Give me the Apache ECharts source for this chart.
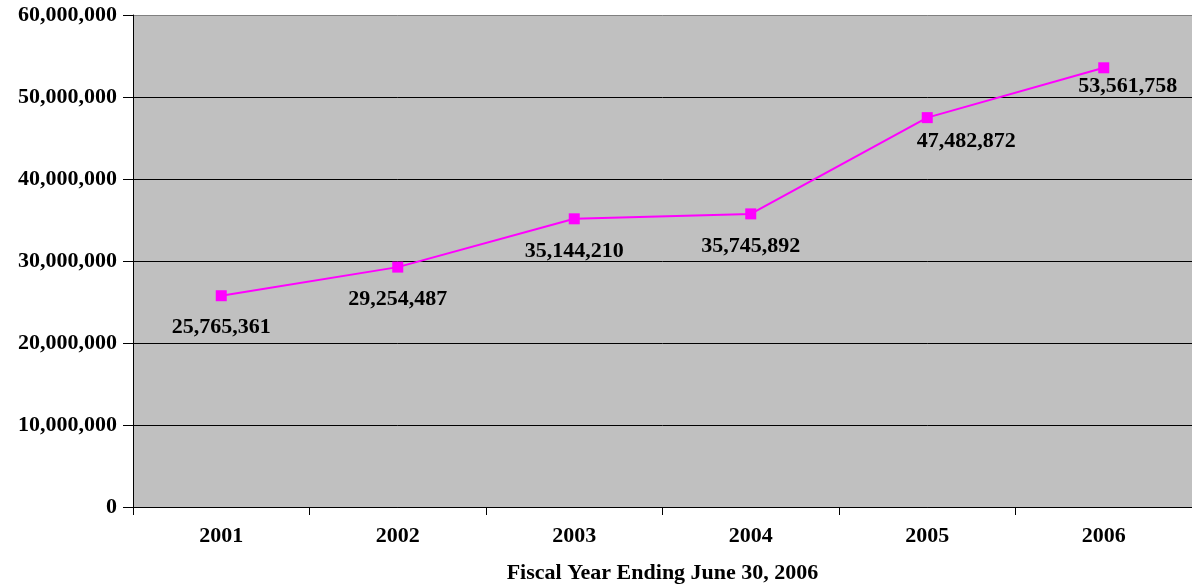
<!DOCTYPE html>
<html>
<head>
<meta charset="utf-8">
<script src="https://cdn.jsdelivr.net/npm/echarts@6/dist/echarts.min.js"></script>
<style>body{margin:0;background:#fff;}</style>
</head>
<body>
<div id="main" style="width:1192px;height:585px;"></div>
<script>
// 数据
var years = ['2001', '2002', '2003', '2004', '2005', '2006'];
var totals = [25765361, 29254487, 35144210, 35745892, 47482872, 53561758];
// 标签偏移 (样式)
var labelShift = [[0, 32], [0, 32], [0, 32], [0, 32], [39, 24], [24, 19]];

function fmt(v) {
    return String(v).replace(/\B(?=(\d{3})+(?!\d))/g, ',');
}

var serif = '"Liberation Serif", "Times New Roman", serif';
var myChart = echarts.init(document.getElementById('main'));
var option = {
    animation: false,
    textStyle: { fontFamily: serif },
    grid: {
        left: 133, right: 0, top: 15, bottom: 78,
        outerBoundsMode: 'none', containLabel: false,
        show: true, backgroundColor: '#c0c0c0', borderWidth: 0
    },
    xAxis: {
        type: 'category',
        data: years,
        boundaryGap: true,
        name: 'Fiscal Year Ending June 30, 2006',
        nameLocation: 'middle',
        nameGap: 55,
        nameTextStyle: { fontSize: 22, fontWeight: 'bold', color: '#000', fontFamily: serif },
        axisLine: { lineStyle: { color: '#000', width: 1 } },
        axisTick: { show: true, length: 8, lineStyle: { color: '#000' } },
        axisLabel: { fontSize: 22, fontWeight: 'bold', color: '#000', margin: 18, fontFamily: serif },
        splitLine: { show: false }
    },
    yAxis: {
        type: 'value',
        min: 0,
        max: 60000000,
        interval: 10000000,
        axisLine: { show: true, lineStyle: { color: '#000', width: 1 } },
        axisTick: { show: true, length: 10, lineStyle: { color: '#000' } },
        axisLabel: { fontSize: 22, fontWeight: 'bold', color: '#000', margin: 16, fontFamily: serif,
            formatter: function (v) { return fmt(v); } },
        splitLine: { show: true, lineStyle: { color: ['#000', '#000', '#000', '#000', '#000', '#000', '#808080'], width: 1 } }
    },
    series: [{
        type: 'line',
        data: totals.map(function (v, i) {
            return { value: v, label: { offset: labelShift[i] } };
        }),
        symbol: 'rect',
        symbolSize: 11,
        lineStyle: { color: '#ff00ff', width: 2 },
        itemStyle: { color: '#ff00ff' },
        label: {
            show: true,
            position: 'inside',
            fontSize: 22,
            fontWeight: 'bold',
            color: '#000',
            fontFamily: serif,
            formatter: function (p) { return fmt(p.value); }
        }
    }]
};
myChart.setOption(option);
</script>
</body>
</html>
